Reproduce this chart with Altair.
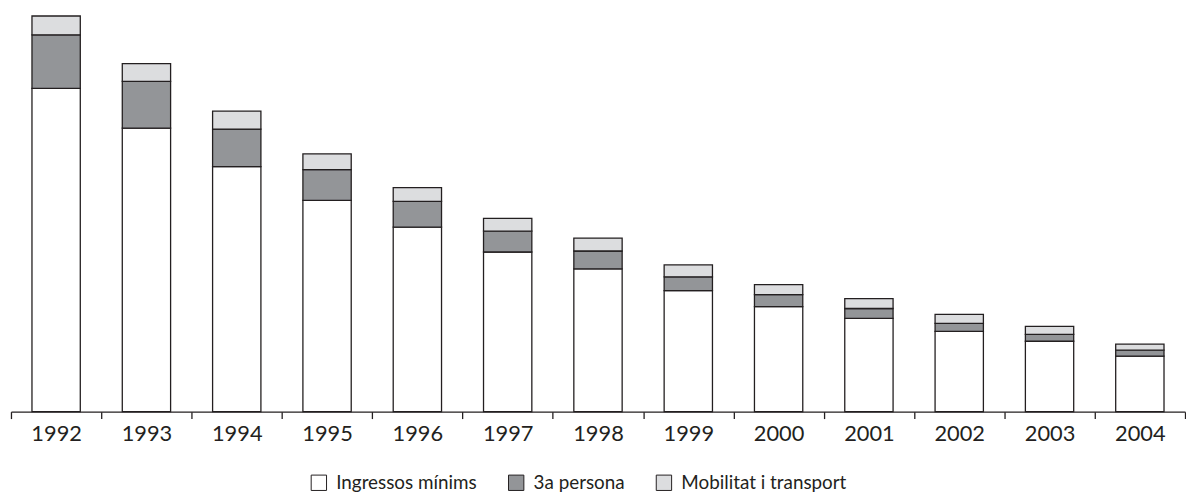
import altair as alt
import pandas as pd

years = ["1992", "1993", "1994", "1995", "1996", "1997", "1998",
         "1999", "2000", "2001", "2002", "2003", "2004"]
series = ["Ingressos mínims", "3a persona", "Mobilitat i transport"]
ingressos = [326, 286, 247, 213, 186, 161, 144, 122, 106, 94, 81, 71, 56]
tercera = [54, 47, 38, 31, 26, 21, 18, 14, 12, 10, 8, 7, 6]
mobilitat = [19, 18, 18, 16, 14, 13, 13, 12, 10, 10, 9, 8, 6]
colors = ["#ffffff", "#939598", "#dcdddf"]

rows = []
for i, y in enumerate(years):
    for k, (name, vals) in enumerate(zip(series, [ingressos, tercera, mobilitat])):
        rows.append({"year": y, "serie": name, "value": vals[i], "idx": k})
df = pd.DataFrame(rows)

FONT = "Lato"
INK = "#231f20"

chart = alt.Chart(df).mark_bar(
    width=alt.RelativeBandSize(0.535),
    stroke=INK,
    strokeWidth=1.3,
).encode(
    x=alt.X("year:N", sort=years,
            scale=alt.Scale(paddingInner=0, paddingOuter=0),
            axis=alt.Axis(title=None, labelAngle=0, tickBand="extent",
                          domainColor=INK, domainWidth=1.3, tickColor=INK,
                          tickWidth=1.3, tickSize=7, labelFont=FONT,
                          labelFontSize=22, labelColor=INK, labelPadding=5,
                          grid=False)),
    y=alt.Y("value:Q", stack="zero",
            scale=alt.Scale(domain=[0, 400], nice=False),
            axis=None),
    color=alt.Color("serie:N", sort=series,
                    scale=alt.Scale(domain=series, range=colors),
                    legend=alt.Legend(title=None, orient="none",
                                      legendX=301, legendY=462,
                                      direction="horizontal",
                                      symbolType="square", symbolSize=240,
                                      symbolStrokeColor=INK,
                                      symbolStrokeWidth=1,
                                      labelFont=FONT, labelFontSize=19,
                                      labelColor=INK, labelOffset=8,
                                      labelLimit=0,
                                      columnPadding=29)),
    order=alt.Order("idx:Q", sort="ascending"),
).properties(
    width=1184, height=400,
    padding={"left": 2, "top": 5, "right": 0, "bottom": 0},
).configure(background="white", view={"stroke": None})

chart.save("out.html", embed_options={"renderer": "svg", "actions": False})
